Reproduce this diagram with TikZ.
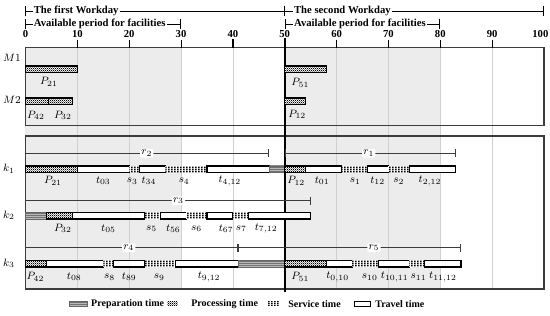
\documentclass[tikz,border=0pt]{standalone}
\usepackage{fontspec}
\setmainfont{Liberation Serif}
\usetikzlibrary{arrows.meta,patterns,positioning}

% fill patterns of the bars
\pgfdeclarepatternformonly{checkdots}{\pgfqpoint{0pt}{0pt}}{\pgfqpoint{1.6pt}{1.6pt}}{\pgfqpoint{1.6pt}{1.6pt}}{%
  \pgfpathrectangle{\pgfqpoint{0pt}{0pt}}{\pgfqpoint{0.8pt}{0.8pt}}%
  \pgfpathrectangle{\pgfqpoint{0.8pt}{0.8pt}}{\pgfqpoint{0.8pt}{0.8pt}}%
  \pgfusepath{fill}}
\pgfdeclarepatternformonly{servdots}{\pgfqpoint{0pt}{0pt}}{\pgfqpoint{2.1pt}{1.5pt}}{\pgfqpoint{2.1pt}{1.5pt}}{%
  \pgfpathrectangle{\pgfqpoint{0pt}{0pt}}{\pgfqpoint{1.3pt}{1.05pt}}%
  \pgfusepath{fill}}
\pgfdeclarepatternformonly{preplines}{\pgfqpoint{0pt}{0pt}}{\pgfqpoint{1pt}{1.2pt}}{\pgfqpoint{1pt}{1.2pt}}{%
  \pgfpathrectangle{\pgfqpoint{0pt}{0pt}}{\pgfqpoint{1pt}{0.6pt}}%
  \pgfusepath{fill}}

\definecolor{shadegray}{RGB}{236,236,236}
\definecolor{gridgray}{RGB}{208,208,208}
\definecolor{framegray}{RGB}{60,60,60}

\begin{document}
\begin{tikzpicture}[x=3.889pt,y=-0.75pt,
  travel/.style={draw=black,line width=0.8pt,fill=white},
  proc/.style={draw=black,line width=0.8pt,preaction={fill=white},pattern=checkdots},
  serv/.style={preaction={fill=white},pattern=servdots},
  prep/.style={draw=gray!80!black,line width=0.4pt,preaction={fill=gray!55},pattern=preplines,pattern color=gray!60!black},
  lab/.style={font=\fontsize{8}{9}\selectfont,inner sep=1pt},
  rlab/.style={lab,fill=white,rounded corners=1pt},
  rspan/.style={draw=framegray,line width=0.6pt,{Bar[width=6pt]}-{Bar[width=6pt]}},
  headline/.style={line width=0.6pt},
  headtext/.style={font=\bfseries\fontsize{8}{9.5}\selectfont,fill=white,inner sep=1pt,anchor=west},
  axnum/.style={font=\bfseries\fontsize{8}{9.5}\selectfont,inner sep=0pt},
  keytext/.style={font=\bfseries\fontsize{7.5}{9}\selectfont,inner sep=0.5pt}]
\useasboundingbox (-4.918,0) rectangle (101.16,316);

% available periods and grid
\fill[shadegray] (0,47.7) rectangle (30,289);
\fill[shadegray] (50,47.7) rectangle (80,289);
\foreach \v in {10,20,...,90}
  \draw[gridgray,line width=0.5pt] (\v,47.7) -- (\v,289);

% the two panels
\draw[framegray,line width=0.8pt] (0,47.7) rectangle (100,125.7);
\draw[framegray,line width=0.8pt] (0,136) rectangle (100,289);

% header brackets
\coordinate (day1s) at (0,11);
\coordinate (day1e) at (50,11);
\coordinate (day2e) at (100,11);
\coordinate (av1s) at (0,24);
\coordinate (av1e) at (30,24);
\coordinate (av2s) at (50,24);
\coordinate (av2e) at (80,24);
\draw[headline,{Bar[width=8pt]}-{Bar[width=8pt]}] (day1s) -- (day1e);
\draw[headline,-{Bar[width=8pt]}] (day1e) -- (day2e);
\draw[headline,{Bar[width=8pt]}-{Bar[width=8pt]}] (av1s) -- (av1e);
\draw[headline,{Bar[width=8pt]}-{Bar[width=8pt]}] (av2s) -- (av2e);
\node[headtext] (day1) at (1.3,11) {The first Workday};
\node[headtext] (day2) at (51.5,11) {The second Workday};
\node[headtext] (avail1) at (1.3,24) {Available period for facilities};
\node[headtext] (avail2) at (51.5,24) {Available period for facilities};

% time axis
\foreach \v in {0,10,...,90}
  \node[axnum] (ax\v) at (\v,34) {\v};
\node[axnum] (ax100) at (99.3,34) {100};
\foreach \v in {10,20,30,60,70,80,90}
  \draw[line width=0.5pt] (\v,40) -- (\v,47.7);
\draw[line width=1.4pt] (40,39) -- (40,47.7);
\draw[line width=1.5pt] (50,38) -- (50,292);

% machines
\node[lab] (mone) at (-2.6,58) {$M1$};
\node[lab] (mtwo) at (-2.6,100) {$M2$};
\draw[proc] (0,66) rectangle (10,72.5);
\draw[proc] (50,66) rectangle (58,72.5);
\draw[proc] (0,98) rectangle (4.5,104.5);
\draw[proc] (4.5,98) rectangle (9,104.5);
\draw[proc] (50,98) rectangle (54,104.5);
\node[lab] (pm21) at (4.5,82) {$P_{21}$};
\node[lab] (pm51) at (53,83) {$P_{51}$};
\node[lab] (pm42) at (2,115.5) {$P_{42}$};
\node[lab] (pm32) at (7.2,115.5) {$P_{32}$};
\node[lab] (pm12) at (52.4,114.5) {$P_{12}$};

% vehicle k1
\coordinate (ra2s) at (0,153.3);
\coordinate (ra2e) at (47,153.3);
\coordinate (ra1s) at (50,153.3);
\coordinate (ra1e) at (83,153.3);
\draw[rspan] (ra2s) -- (ra2e);
\draw[rspan] (ra1s) -- (ra1e);
\node[rlab] (r2) at (23.4,153.3) {$r_2$};
\node[rlab] (r1) at (66.2,153.3) {$r_1$};
\node[lab] (kone) at (-3.2,169) {$k_1$};
\draw[proc] (0,166) rectangle (10,172.5);
\draw[travel] (10,166) rectangle (20,172.5);
\fill[serv] (20,166) rectangle (22,172.5);
\draw[travel] (22,166) rectangle (27,172.5);
\fill[serv] (27,166) rectangle (35,172.5);
\draw[travel] (35,166) rectangle (47,172.5);
\draw[prep] (47,166) rectangle (50,172.5);
\draw[proc] (50,166) rectangle (54,172.5);
\draw[travel] (54,166) rectangle (61,172.5);
\fill[serv] (61,166) rectangle (66,172.5);
\draw[travel] (66,166) rectangle (70,172.5);
\fill[serv] (70,166) rectangle (74,172.5);
\draw[travel] (74,166) rectangle (83,172.5);
\node[lab] (k1p21) at (5.3,181) {$P_{21}$};
\node[lab] (k1t03) at (15,181) {$t_{03}$};
\node[lab] (k1s3) at (20.6,181) {$s_3$};
\node[lab] (k1t34) at (23.8,181) {$t_{34}$};
\node[lab] (k1s4) at (30.6,181) {$s_4$};
\node[lab] (k1t412) at (39.4,181) {$t_{4,12}$};
\node[lab] (k1p12) at (52.2,181) {$P_{12}$};
\node[lab] (k1t01) at (57.2,181) {$t_{01}$};
\node[lab] (k1s1) at (63.6,181) {$s_1$};
\node[lab] (k1t12) at (67.9,181) {$t_{12}$};
\node[lab] (k1s2) at (72,181) {$s_2$};
\node[lab] (k1t212) at (78,181) {$t_{2,12}$};

% vehicle k2
\coordinate (ra3s) at (0,200.7);
\coordinate (ra3e) at (55,200.7);
\draw[rspan] (ra3s) -- (ra3e);
\node[rlab] (r3) at (29.5,200.7) {$r_3$};
\node[lab] (ktwo) at (-3.2,215.5) {$k_2$};
\draw[prep] (0,212.5) rectangle (4,219);
\draw[proc] (4,212.5) rectangle (9,219);
\draw[travel] (9,212.5) rectangle (23,219);
\fill[serv] (23,212.5) rectangle (26,219);
\draw[travel] (26,212.5) rectangle (31,219);
\fill[serv] (31,212.5) rectangle (35,219);
\draw[travel] (35,212.5) rectangle (40,219);
\fill[serv] (40,212.5) rectangle (43,219);
\draw[travel] (43,212.5) rectangle (55,219);
\node[lab] (k2p32) at (7.2,228.5) {$P_{32}$};
\node[lab] (k2t05) at (16,228.5) {$t_{05}$};
\node[lab] (k2s5) at (24.3,228.5) {$s_5$};
\node[lab] (k2t56) at (28.5,228.5) {$t_{56}$};
\node[lab] (k2s6) at (33,228.5) {$s_6$};
\node[lab] (k2t67) at (38.7,228.5) {$t_{67}$};
\node[lab] (k2s7) at (41.6,228.5) {$s_7$};
\node[lab] (k2t712) at (46.4,228.5) {$t_{7,12}$};

% vehicle k3
\coordinate (ra4s) at (0,247.7);
\coordinate (ra4e) at (41,247.7);
\coordinate (ra5e) at (84,247.7);
\draw[rspan] (ra4s) -- (ra4e);
\draw[rspan] (ra4e) -- (ra5e);
\node[rlab] (r4) at (19.9,247.7) {$r_4$};
\node[rlab] (r5) at (67.2,247.7) {$r_5$};
\node[lab] (kthree) at (-3.2,263.5) {$k_3$};
\draw[proc] (0,260.5) rectangle (4,267);
\draw[travel] (4,260.5) rectangle (15,267);
\fill[serv] (15,260.5) rectangle (17,267);
\draw[travel] (17,260.5) rectangle (23,267);
\fill[serv] (23,260.5) rectangle (29,267);
\draw[travel] (29,260.5) rectangle (41,267);
\draw[prep] (41,260.5) rectangle (50,267);
\draw[proc] (50,260.5) rectangle (58,267);
\draw[travel] (58,260.5) rectangle (63,267);
\fill[serv] (63,260.5) rectangle (68,267);
\draw[travel] (68,260.5) rectangle (74,267);
\fill[serv] (74,260.5) rectangle (77,267);
\draw[travel] (77,260.5) rectangle (84,267);
\node[lab] (k3p42) at (1.9,277) {$P_{42}$};
\node[lab] (k3t08) at (9.4,277) {$t_{08}$};
\node[lab] (k3s8) at (16.2,277) {$s_8$};
\node[lab] (k3t89) at (20,277) {$t_{89}$};
\node[lab] (k3s9) at (25.8,277) {$s_9$};
\node[lab] (k3t912) at (35.4,277) {$t_{9,12}$};
\node[lab] (k3p51) at (53,277) {$P_{51}$};
\node[lab] (k3t010) at (60.2,277) {$t_{0,10}$};
\node[lab] (k3s10) at (66.4,277) {$s_{10}$};
\node[lab] (k3t1011) at (71.2,277) {$t_{10,11}$};
\node[lab] (k3s11) at (75.8,277) {$s_{11}$};
\node[lab] (k3t1112) at (80.5,277) {$t_{11,12}$};

% legend
\draw[prep] (8.4,301.5) rectangle (11.9,306);
\node[keytext,anchor=west] (keyprep) at (12.5,304.5) {Preparation time};
\fill[serv,pattern=checkdots] (27.3,301.5) rectangle (29.4,306);
\node[keytext,anchor=west] (keyproc) at (31.8,304.5) {Processing time};
\fill[serv] (46.6,301.5) rectangle (48.9,306);
\node[keytext,anchor=west] (keyserv) at (50.5,304.5) {Service time};
\draw[travel] (63.4,301.5) rectangle (66.6,306.5);
\node[keytext,anchor=west] (keytrav) at (67.3,304.5) {Travel time};
\end{tikzpicture}
\end{document}
